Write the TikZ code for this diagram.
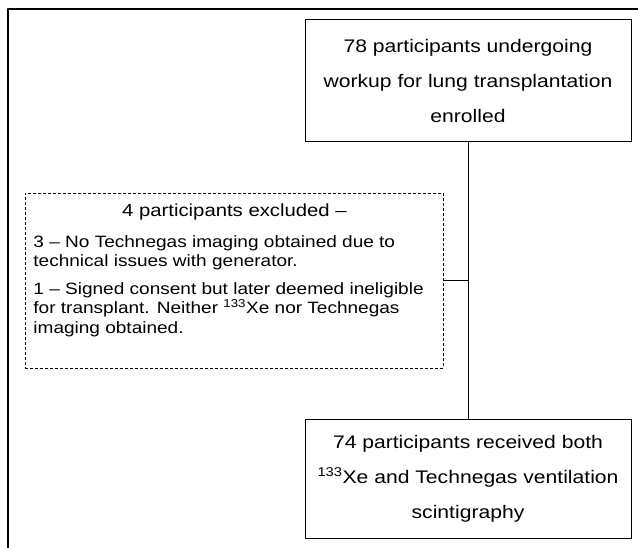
\documentclass[tikz,border=0pt]{standalone}
\usepackage{fontspec}
\setmainfont{Liberation Sans}[FakeStretch=1.16]
\usetikzlibrary{positioning}

\tikzset{
	flowbox/.style={draw, line width=1pt, minimum width=326pt, minimum height=122pt,
		inner sep=0pt, align=center, font=\fontsize{18.2}{35}\selectfont},
	exclbox/.style={draw, line width=0.9pt, dash pattern=on 3pt off 2pt,
		anchor=north west, inner xsep=8pt, inner ysep=10pt},
}

\begin{document}
\begin{tikzpicture}[x=1pt,y=1pt,line join=round]
	\useasboundingbox (0,0) rectangle (638,-548);
	
	% outer frame (open to the right and bottom)
	\draw[line width=1.3pt] (8,-548) -- (8,-9) -- (638,-9);
	
	\node[flowbox] (enrolled) at (468,-81)
	{78 participants undergoing\\workup for lung transplantation\\enrolled};
	
	\node[flowbox, minimum height=119pt] (received) at (468,-478.5)
	{74 participants received both\\\textsuperscript{133}Xe and Technegas ventilation\\scintigraphy};
	
	\node[exclbox] (excluded) at (25,-193)
	{\parbox[t][155pt][t]{402pt}{%
			\centering\fontsize{17.5}{22}\selectfont 4 participants excluded –\par
			\raggedright\fontsize{16.4}{19.5}\selectfont
			\vspace{11.5pt}3 – No Technegas imaging obtained due to\\
			technical issues with generator.\par
			\vspace{8pt}1 – Signed consent but later deemed ineligible\\
			for transplant. Neither \textsuperscript{133}Xe nor Technegas\\
			imaging obtained.\par}};
	
	\coordinate (join) at (enrolled.south |- excluded.east);
	
	\draw[line width=1pt] (enrolled) -- (received);
	\draw[line width=1pt] (excluded) -- (join);
	
\end{tikzpicture}
\end{document}
